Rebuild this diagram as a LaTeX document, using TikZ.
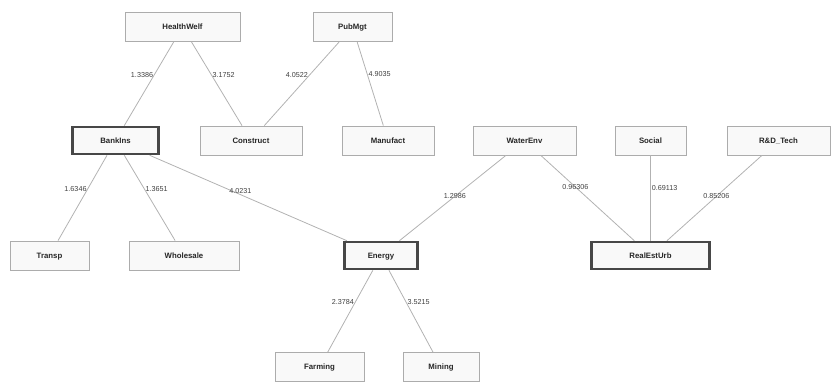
\documentclass[tikz,border=0pt]{standalone}
\usepackage{fontspec}
\newfontfamily\arialfont{Liberation Sans}
\usetikzlibrary{positioning}

\begin{document}
\begin{tikzpicture}[
    x=1pt, y=-1pt,
    % Define styles for reusable components
    sector/.style={draw=gray!65, fill=gray!5, line width=0.8pt, minimum height=29pt,
        inner sep=0pt, text height=5.8pt, text depth=0pt,
        font=\arialfont\bfseries\fontsize{7.8}{9}\selectfont, text=black!85},
    hub/.style={sector, draw=black!72, line width=2.6pt, minimum height=27pt},
    link/.style={draw=gray!60, line width=0.8pt},
    weight/.style={font=\arialfont\fontsize{7.2}{8}\selectfont, text=black!75, inner sep=1pt}
]

    \useasboundingbox (0,0) rectangle (831,384);

    % --- TOP ROW ---
    \node[sector, minimum width=115pt] (health) at (182.5,27) {HealthWelf};
    \node[sector, minimum width=79pt]  (pubmgt) at (352.5,27) {PubMgt};

    % --- SECOND ROW ---
    \node[hub, minimum width=86pt]     (bank)      at (115.5,140.5) {BankIns};
    \node[sector, minimum width=102pt] (construct) at (251,140.5)   {Construct};
    \node[sector, minimum width=92pt]  (manufact)  at (388,140.5)   {Manufact};
    \node[sector, minimum width=103pt] (water)     at (524.5,140.5) {WaterEnv};
    \node[sector, minimum width=71pt]  (social)    at (650.5,140.5) {Social};
    \node[sector, minimum width=103pt] (rdtech)    at (778.5,140.5) {R\&D\_Tech};

    % --- THIRD ROW ---
    \node[sector, minimum width=79pt]  (transp)    at (49.5,255.5)  {Transp};
    \node[sector, minimum width=110pt] (wholesale) at (184,255.5)   {Wholesale};
    \node[hub, minimum width=73pt]     (energy)    at (381,255.5)   {Energy};
    \node[hub, minimum width=118pt]    (realest)   at (650.5,255.5) {RealEstUrb};

    % --- BOTTOM ROW ---
    \node[sector, minimum width=89pt] (farming) at (319.5,367) {Farming};
    \node[sector, minimum width=76pt] (mining)  at (441,367)   {Mining};

    % --- LINKS WITH WEIGHTS ---
    \draw[link] (health) -- node[weight, pos=0.39, left]  {1.3386} (bank);
    \draw[link] (health) -- node[weight, pos=0.39, right] {3.1752} (construct);
    \draw[link] (pubmgt) -- node[weight, pos=0.40, left]  {4.0522} (construct);
    \draw[link] (pubmgt) -- node[weight, pos=0.38, right] {4.9035} (manufact);

    \draw[link] (bank) -- node[weight, pos=0.39, left]  {1.6346} (transp);
    \draw[link] (bank) -- node[weight, pos=0.39, right] {1.3651} (wholesale);
    \draw[link] (bank) -- node[weight, pos=0.46, above, inner sep=0.3pt] {4.0231} (energy);

    \draw[link] (water)  -- node[weight, pos=0.48] {1.2986}  (energy);
    \draw[link] (water)  -- node[weight, pos=0.37] {0.96306} (realest);
    \draw[link] (social) -- node[weight, pos=0.38, right] {0.69113} (realest);
    \draw[link] (rdtech) -- node[weight, pos=0.48] {0.85206} (realest);

    \draw[link] (energy) -- node[weight, pos=0.39, left]  {2.3784} (farming);
    \draw[link] (energy) -- node[weight, pos=0.39, right] {3.5215} (mining);

\end{tikzpicture}
\end{document}
